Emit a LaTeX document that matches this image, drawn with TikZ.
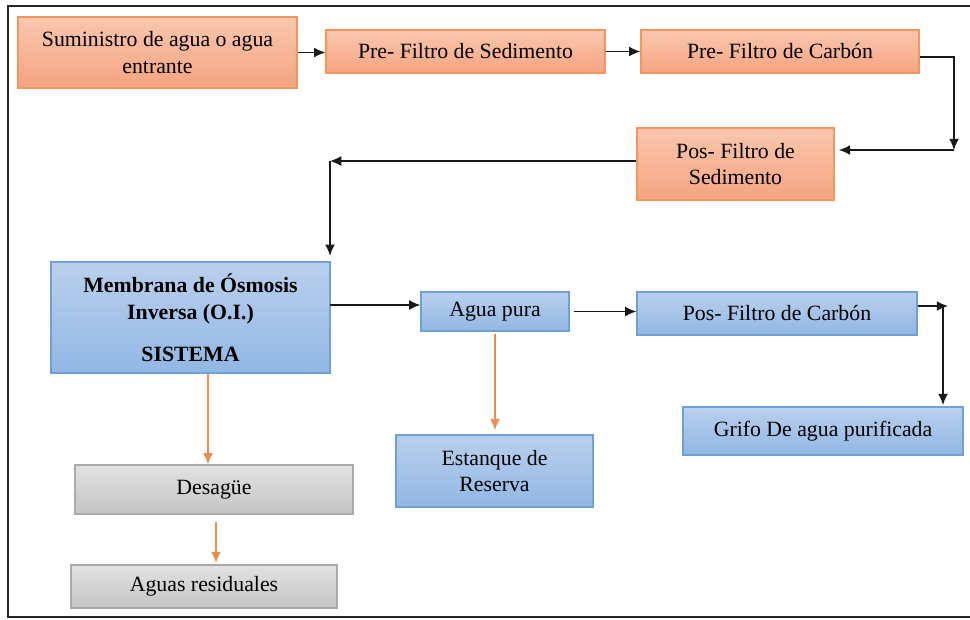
\documentclass[tikz,border=0pt]{standalone}
\usepackage{fontspec}
\setmainfont{Liberation Serif}
\usetikzlibrary{arrows.meta}

\definecolor{narArriba}{RGB}{249,199,174}
\definecolor{narAbajo}{RGB}{245,164,128}
\definecolor{narBorde}{RGB}{243,150,92}
\definecolor{azulArriba}{RGB}{186,208,237}
\definecolor{azulAbajo}{RGB}{145,183,228}
\definecolor{azulBorde}{RGB}{112,160,214}
\definecolor{grisArriba}{RGB}{226,226,226}
\definecolor{grisAbajo}{RGB}{196,196,196}
\definecolor{grisBorde}{RGB}{170,170,170}
\definecolor{flechaNar}{RGB}{240,140,78}

\tikzset{
	caja/.style={rectangle, line width=0.8pt, inner sep=2pt, align=center, font=\fontsize{15.5}{19}\selectfont},
	cajaNaranja/.style={caja, draw=narBorde, top color=narArriba, bottom color=narAbajo},
	cajaAzul/.style={caja, draw=azulBorde, top color=azulArriba, bottom color=azulAbajo},
	cajaGris/.style={caja, draw=grisBorde, top color=grisArriba, bottom color=grisAbajo},
	flecha/.style={line width=1pt, color=black!90, -{Latex[length=8pt,width=7pt]}},
	flechaNaranja/.style={line width=1pt, color=flechaNar, -{Latex[length=8pt,width=7pt]}}
}

\begin{document}
\begin{tikzpicture}[x=0.025cm, y=-0.025cm]
	\useasboundingbox (0,0) rectangle (970,619);
	\draw[line width=1.4pt, black!85] (970,6) -- (8,6) -- (8,617) -- (970,617);

	\node[cajaNaranja, minimum width=6.975cm, minimum height=1.775cm] (suministro) at (157.5,52.5) {Suministro de agua o agua\\entrante};
	\node[cajaNaranja, minimum width=6.975cm, minimum height=1.075cm] (presed) at (465.5,51.5) {Pre- Filtro de Sedimento};
	\node[cajaNaranja, minimum width=6.95cm, minimum height=1.075cm] (precarb) at (780,51.5) {Pre- Filtro de Carbón};
	\node[cajaNaranja, minimum width=4.925cm, minimum height=1.8cm] (possed) at (735.5,164) {Pos- Filtro de\\Sedimento};
	\node[cajaAzul, minimum width=6.975cm, minimum height=2.775cm, font=\fontsize{15.5}{19}\selectfont\bfseries] (membrana) at (190.5,317.5) {Membrana de Ósmosis\\Inversa (O.I.)\\[11pt]SISTEMA};
	\node[cajaAzul, minimum width=3.7cm, minimum height=0.975cm] (aguapura) at (495,311.5) {Agua pura};
	\node[cajaAzul, minimum width=7cm, minimum height=1.075cm] (poscarb) at (777,313.5) {Pos- Filtro de Carbón};
	\node[cajaAzul, minimum width=7cm, minimum height=1.2cm] (grifo) at (823,431) {Grifo De agua purificada};
	\node[cajaAzul, minimum width=4.925cm, minimum height=1.8cm] (estanque) at (494.5,471) {Estanque de\\Reserva};
	\node[cajaGris, minimum width=6.95cm, minimum height=1.225cm] (desague) at (214,489.5) {Desagüe};
	\node[cajaGris, minimum width=6.65cm, minimum height=1.075cm] (aguasres) at (204,586.5) {Aguas residuales};

	% esquinas de las lineas
	\coordinate (c1) at (954,150);
	\coordinate (c2) at (330,161);
	\coordinate (m1) at (330,305);
	\coordinate (c3) at (948,306);
	\coordinate (c4) at (943,306);
	\coordinate (o1) at (208,0);

	\draw[flecha] (suministro.east) -- (suministro.east -| presed.west);
	\draw[flecha] (presed.east) -- (precarb.west);
	\draw[flecha] ([yshift=-0.14cm]precarb.east) -| (c1);
	\draw[flecha, shorten >=3pt] (c1) -- (c1 -| possed.east);
	\draw[flecha] (possed.west |- c2) -- (c2);
	\draw[flecha, shorten >=4pt] (c2) -- (c2 |- membrana.north);
	\draw[flecha] (m1) -- (m1 -| aguapura.west);
	\draw[flecha, shorten <=3pt] (aguapura.east) -- (aguapura.east -| poscarb.west);
	\draw[flecha] (poscarb.east |- c3) -- (c3);
	\draw[flecha, shorten >=1pt] (c4) -- (c4 |- grifo.north);

	\draw[flechaNaranja] (membrana.south -| o1) -- (desague.north -| o1);
	\draw[flechaNaranja, shorten <=5pt, shorten >=1pt] ([xshift=0.05cm]desague.south) -- ([xshift=0.05cm]desague.south |- aguasres.north);
	\draw[flechaNaranja, shorten <=2pt, shorten >=3pt] (aguapura.south) -- (aguapura.south |- estanque.north);
\end{tikzpicture}
\end{document}
